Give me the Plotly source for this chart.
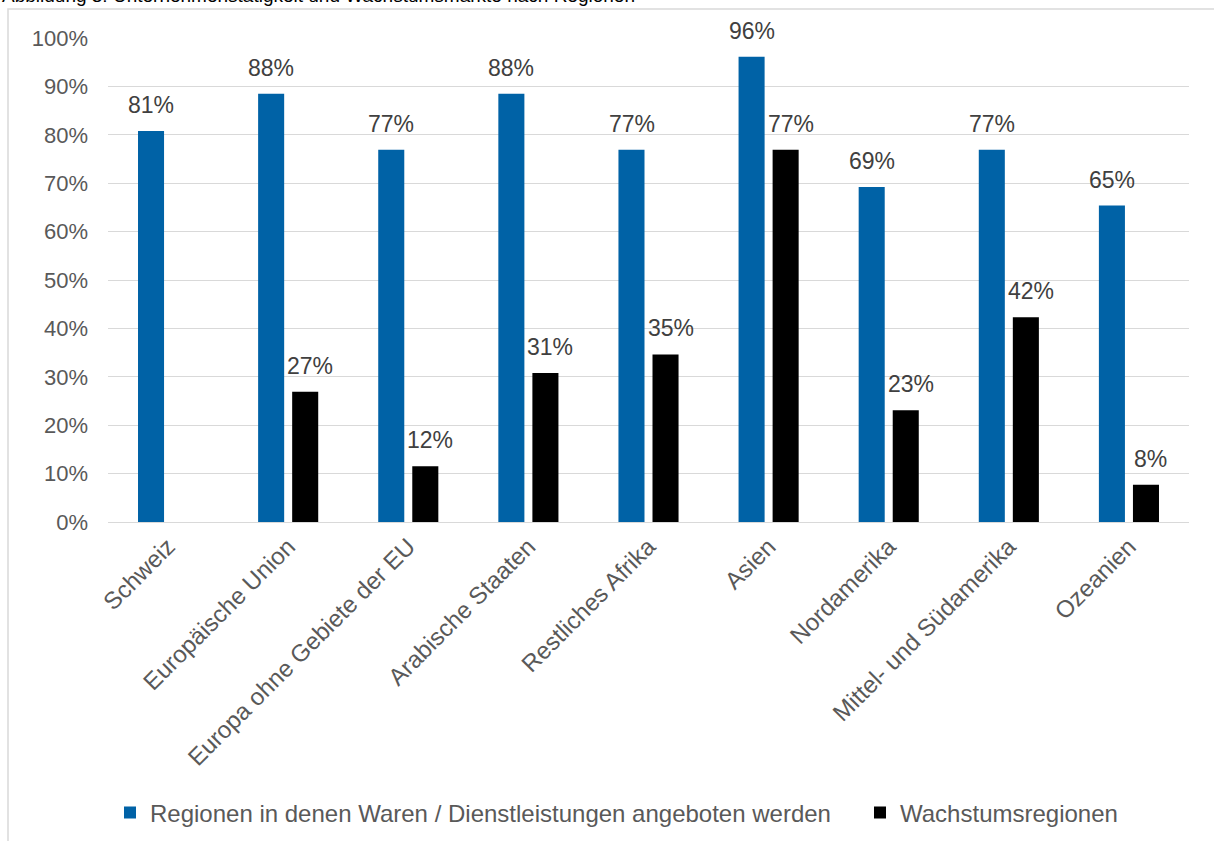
import plotly.graph_objects as go

categories = ["Schweiz", "Europäische Union", "Europa ohne Gebiete der EU", "Arabische Staaten",
              "Restliches Afrika", "Asien", "Nordamerika", "Mittel- und Südamerika", "Ozeanien"]
angeboten = [80.77, 88.46, 76.92, 88.46, 76.92, 96.15, 69.23, 76.92, 65.38]
wachstum = [None, 26.92, 11.54, 30.77, 34.62, 76.92, 23.08, 42.31, 7.69]
tick_vals = [0, 10, 20, 30, 40, 50, 60, 70, 80, 90, 100]
tick_text = [f"{v}%" for v in tick_vals]

FONT = "Liberation Sans, Arial, sans-serif"

fig = go.Figure()
fig.add_trace(go.Bar(
    x=categories, y=angeboten, name="Regionen in denen Waren / Dienstleistungen angeboten werden",
    marker=dict(color="#0062A6", line=dict(width=0)), legend="legend",
))
fig.add_trace(go.Bar(
    x=categories, y=wachstum, name="Wachstumsregionen",
    marker=dict(color="#000000", line=dict(width=0)), legend="legend2",
))

# data labels
label_font = dict(size=23, color="#404040", family=FONT)
annotations = []
for series, shift in ((angeboten, -17), (wachstum, 22)):
    for cat, v in zip(categories, series):
        if v is None:
            continue
        annotations.append(dict(x=cat, y=v, xref="x", yref="y", text=f"{round(v)}%",
                                showarrow=False, xanchor="center", yanchor="middle",
                                xshift=shift, yshift=26, font=label_font))

# plot area in page pixels: x 108..1189, y 38..522
L, R, T, B = 108, 1214 - 1189, 38, 841 - 522
W = 1214 - L - R
H = 841 - T - B

def px_x(p):
    return (p - L) / W

def px_y(p):
    return (841 - B - p) / H

annotations.append(dict(text="Abbildung 3: Unternehmenstätigkeit und Wachstumsmärkte nach Regionen",
                        xref="paper", yref="paper", x=px_x(0), y=px_y(-4), xanchor="left",
                        yanchor="middle", showarrow=False,
                        font=dict(size=19, color="#000000", family=FONT)))

legend_font = dict(size=24, color="#595959", family=FONT)

fig.update_layout(
    width=1214, height=841,
    margin=dict(l=L, r=R, t=T, b=B, autoexpand=False),
    paper_bgcolor="white", plot_bgcolor="white",
    font=dict(family=FONT, color="#595959"),
    barmode="group", bargap=0.433, bargroupgap=0.235,
    showlegend=True,
    legend=dict(orientation="h", x=px_x(110), xanchor="left", y=px_y(813), yanchor="middle",
                font=legend_font, itemwidth=30, bgcolor="rgba(0,0,0,0)"),
    legend2=dict(orientation="h", x=px_x(860), xanchor="left", y=px_y(813), yanchor="middle",
                 font=legend_font, itemwidth=30, bgcolor="rgba(0,0,0,0)"),
    xaxis=dict(tickangle=-45, tickfont=dict(size=24, color="#595959", family=FONT),
               showline=True, linecolor="#d9d9d9", linewidth=1, ticks=""),
    yaxis=dict(range=[0, 100], tickvals=tick_vals, ticktext=tick_text,
               tickfont=dict(size=22, color="#595959", family=FONT),
               showgrid=True, gridcolor="#d9d9d9", gridwidth=1, zeroline=False,
               ticks="", ticklabelstandoff=19),
    annotations=annotations,
    shapes=[dict(type="rect", xref="paper", yref="paper",
                 x0=px_x(8), x1=px_x(1240), y0=px_y(9), y1=px_y(880),
                 line=dict(color="#d9d9d9", width=1.5), fillcolor="rgba(0,0,0,0)", layer="below")],
)

fig.write_html("out.html", config={"displayModeBar": False},
               post_script="document.body.style.margin='0';")
